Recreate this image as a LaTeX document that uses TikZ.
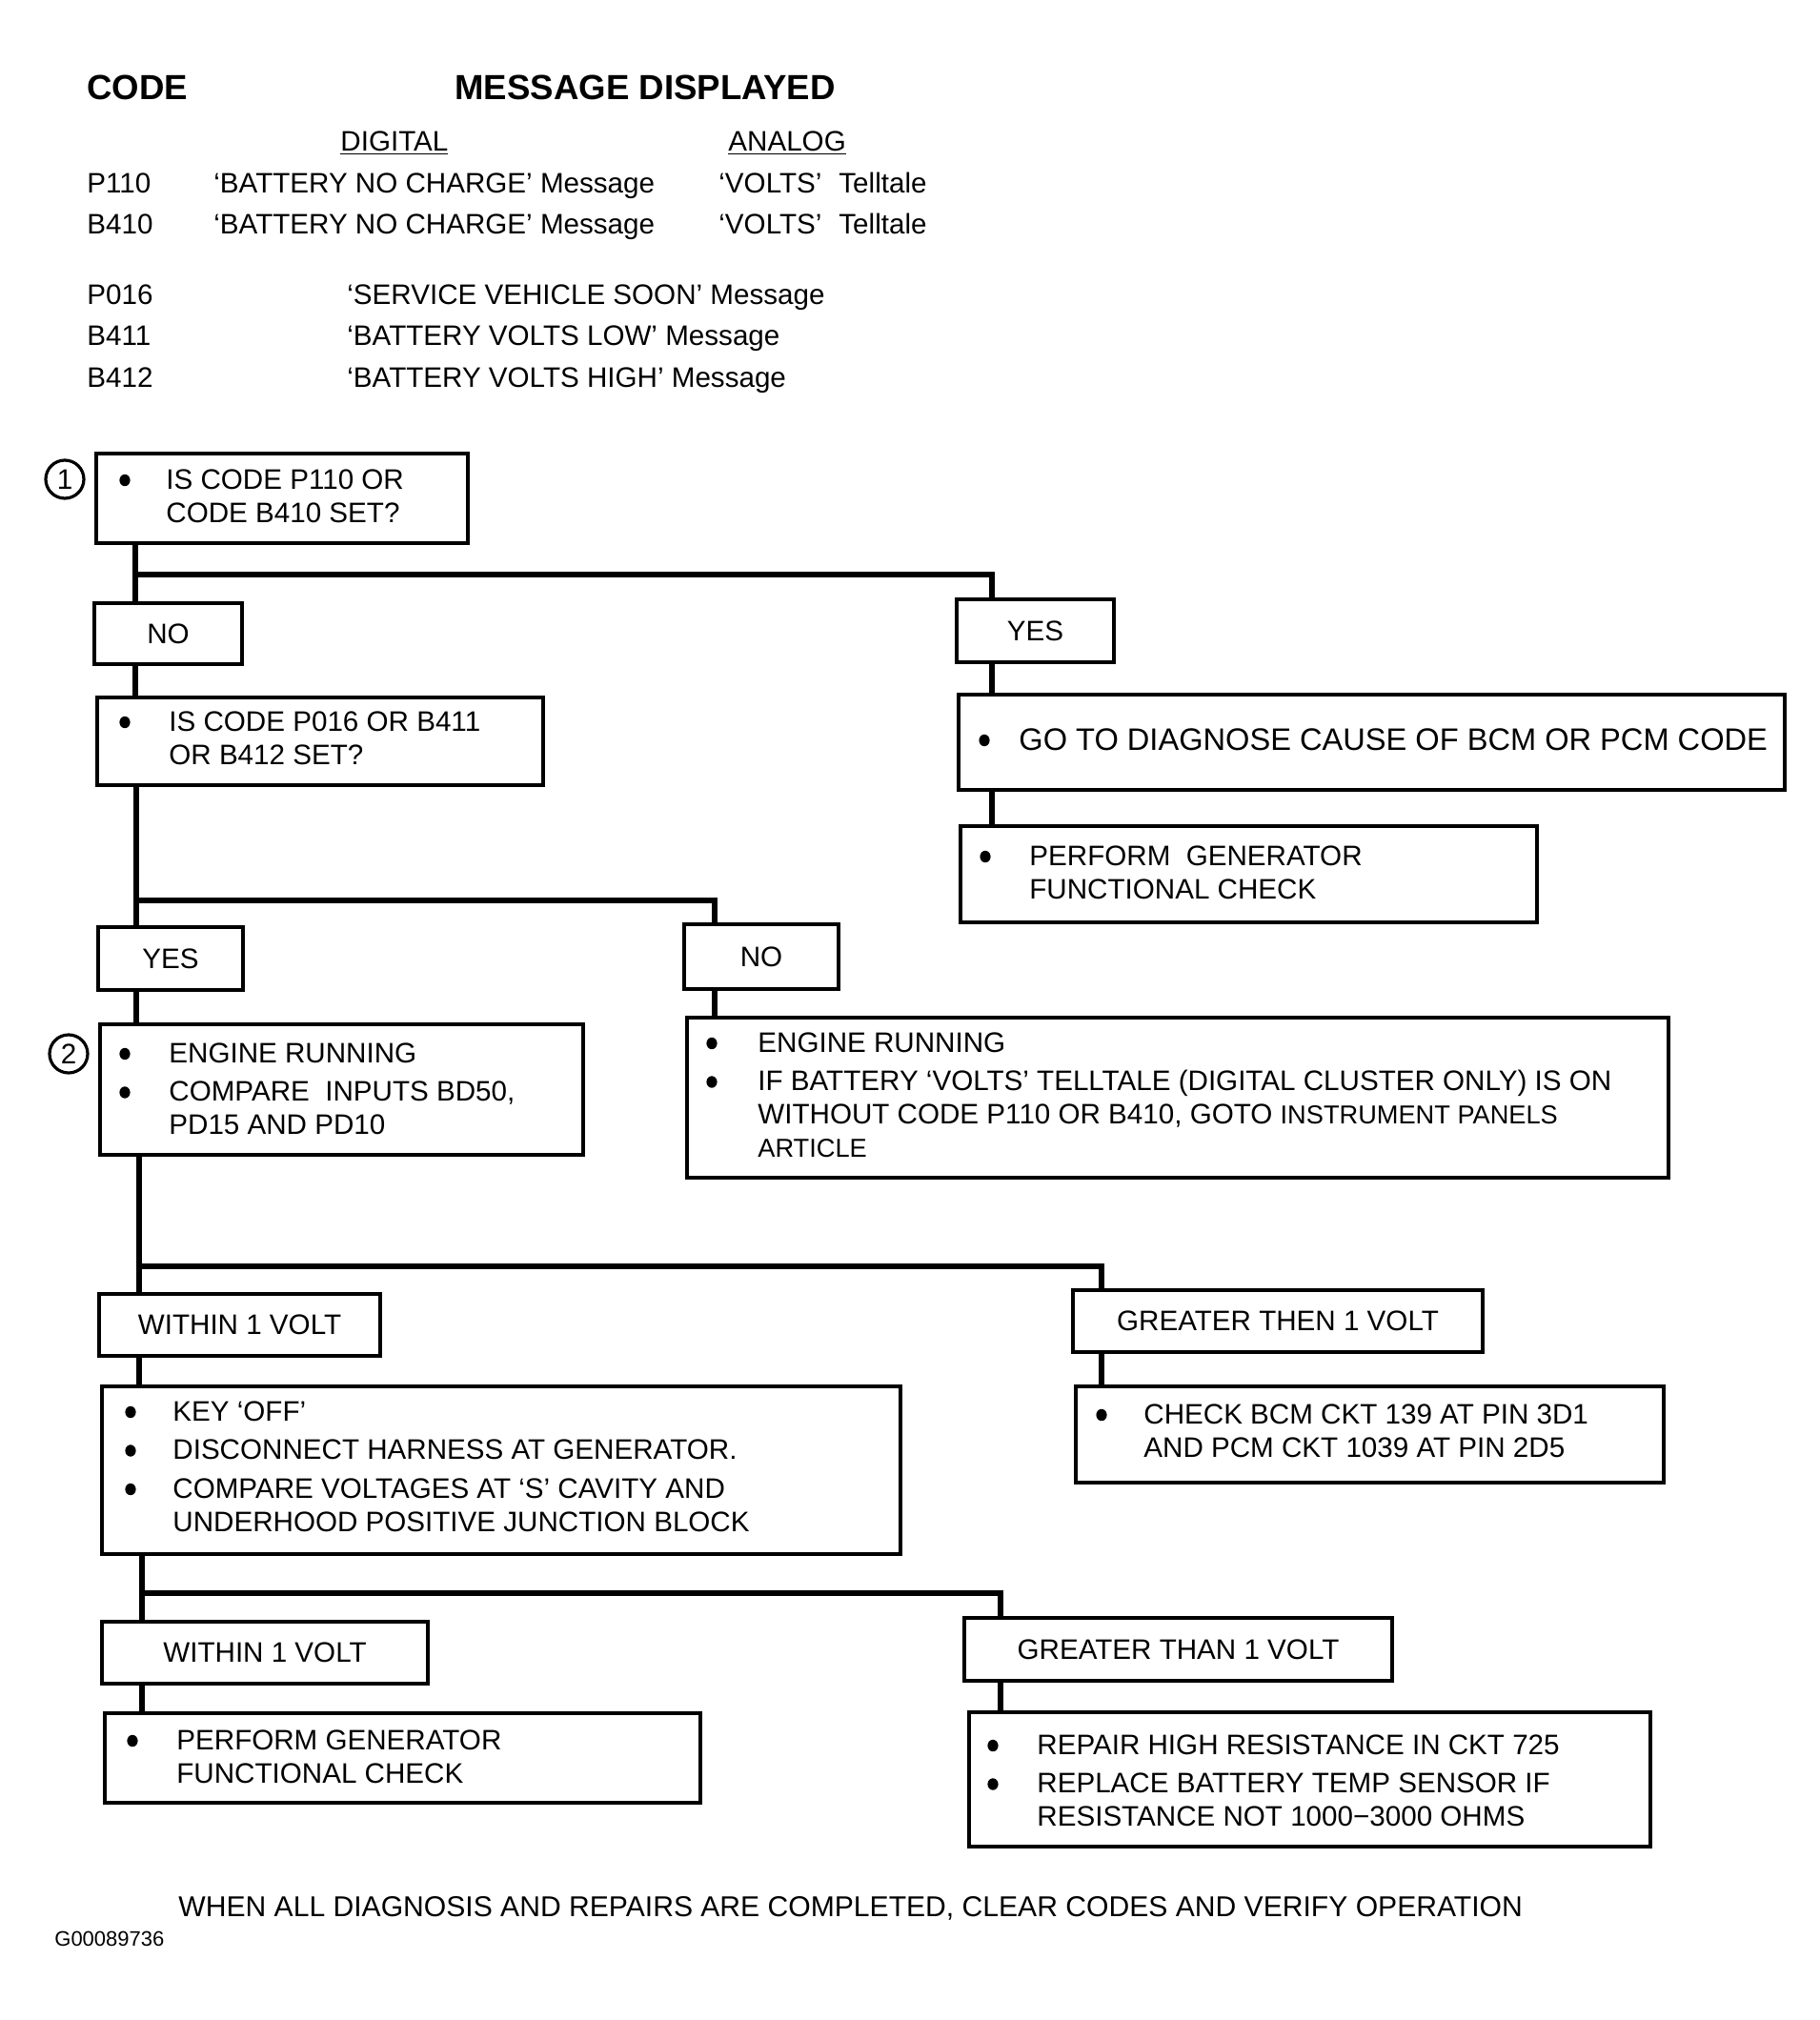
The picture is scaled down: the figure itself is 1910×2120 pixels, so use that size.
\documentclass[tikz,border=0pt]{standalone}
\usepackage{fontspec}
\setmainfont{Liberation Sans}
\usepackage{array}
\newcommand\mainfs{\fontsize{14.8}{17.5}\selectfont}
\newcommand\bigfs{\fontsize{16.3}{19}\selectfont}
\newcommand\smfs{\fontsize{13.6}{17.5}\selectfont}
\newcommand\ltab[1]{\begin{tabular}[t]{@{}l@{}}#1\end{tabular}}
\newcommand\gap{\\[2.75pt]}
\begin{document}
\begin{tikzpicture}[x=0.5pt,y=-0.5pt,
  every node/.style={inner sep=0pt},
  box/.style={draw, line width=1.8pt, anchor=north west, inner sep=0pt},
  lbl/.style={draw, line width=1.8pt, inner sep=0pt, font=\mainfs},
  conn/.style={line width=3.2pt},
  dot/.style={fill=black},
  txt/.style={anchor=base west, font=\mainfs},
  head/.style={anchor=base west, font=\fontsize{18.3}{22}\selectfont\bfseries},
  num/.style={circle, draw, line width=1.6pt, minimum size=20pt, font=\mainfs}]
\fill[white] (0,0) rectangle (1910,2120);
\useasboundingbox (0,0) rectangle (1910,2120);

% ---------- header ----------
\node[head] (hcode) at (91,104) {CODE};
\node[head] (hmsg) at (477,104) {MESSAGE DISPLAYED};
\node[txt] (hdig) at (357,158) {\underline{DIGITAL}};
\node[txt] (hana) at (764,158) {\underline{ANALOG}};
\node[txt] (c1) at (91,202) {P110};
\node[txt] (m1) at (224,202) {`BATTERY NO CHARGE' Message};
\node[txt] (a1) at (754,202) {`VOLTS'\hspace{9pt}Telltale};
\node[txt] (c2) at (91,245) {B410};
\node[txt] (m2) at (224,245) {`BATTERY NO CHARGE' Message};
\node[txt] (a2) at (754,245) {`VOLTS'\hspace{9pt}Telltale};
\node[txt] (c3) at (91,319) {P016};
\node[txt] (m3) at (364,319) {`SERVICE VEHICLE SOON' Message};
\node[txt] (c4) at (91,362) {B411};
\node[txt] (m4) at (364,362) {`BATTERY VOLTS LOW' Message};
\node[txt] (c5) at (91,406) {B412};
\node[txt] (m5) at (364,406) {`BATTERY VOLTS HIGH' Message};

% ---------- boxes ----------
\node[box, minimum width=195pt, minimum height=47pt] (b1) at (99,474) {};
\node[txt] (t1) at (174,513) {\ltab{IS CODE P110 OR\\ CODE B410 SET?}};
\fill[dot] (131,504) ellipse (2.8pt and 3.1pt);
\node[num] (n1) at (68,503) {1};

\node[lbl, minimum width=77.5pt, minimum height=32pt] (no1) at (176.5,665) {NO};
\node[lbl, minimum width=82.5pt, minimum height=33pt] (yes1) at (1086.5,662) {YES};

\node[box, minimum width=433.5pt, minimum height=50pt] (goto) at (1004,727) {};
\node[txt, font=\bigfs] (tgoto) at (1069,787) {GO TO DIAGNOSE CAUSE OF BCM OR PCM CODE};
\fill[dot] (1033,777) ellipse (2.8pt and 3.1pt);

\node[box, minimum width=302.5pt, minimum height=50.5pt] (perf1) at (1006,865) {};
\node[txt] (tperf1) at (1080,908) {\ltab{PERFORM\ \ GENERATOR\\ FUNCTIONAL CHECK}};
\fill[dot] (1034,899) ellipse (2.8pt and 3.1pt);

\node[box, minimum width=234pt, minimum height=46pt] (q2) at (100,730) {};
\node[txt] (tq2) at (177,767) {\ltab{IS CODE P016 OR B411\\ OR B412 SET?}};
\fill[dot] (131,758) ellipse (2.8pt and 3.1pt);

\node[lbl, minimum width=76pt, minimum height=33pt] (yes2) at (179,1006) {YES};
\node[lbl, minimum width=81pt, minimum height=34pt] (no2) at (799,1004) {NO};

\node[box, minimum width=253.5pt, minimum height=68.5pt] (b2) at (103,1073) {};
\node[txt] (tb2) at (177,1115) {\ltab{ENGINE RUNNING\gap COMPARE\ \ INPUTS BD50,\\ PD15 AND PD10}};
\fill[dot] (131,1106) ellipse (2.8pt and 3.1pt);
\fill[dot] (131,1146.5) ellipse (2.8pt and 3.1pt);
\node[num] (n2) at (72,1106) {2};

\node[box, minimum width=515pt, minimum height=84pt] (nob) at (719,1066) {};
\node[txt] (tnob) at (795,1104) {\ltab{ENGINE RUNNING\gap IF BATTERY `VOLTS' TELLTALE (DIGITAL CLUSTER ONLY) IS ON\\ WITHOUT CODE P110 OR B410, GOTO\ {\smfs INSTRUMENT PANELS}\\ {\smfs ARTICLE}}};
\fill[dot] (747,1095) ellipse (2.8pt and 3.1pt);
\fill[dot] (747,1135.5) ellipse (2.8pt and 3.1pt);

\node[lbl, minimum width=147.5pt, minimum height=32.5pt] (w1) at (251.5,1390.5) {WITHIN 1 VOLT};
\node[lbl, minimum width=215pt, minimum height=32.5pt] (gt1) at (1341,1386.5) {GREATER THEN 1 VOLT};

\node[box, minimum width=308.5pt, minimum height=50.5pt] (chk) at (1127,1453) {};
\node[txt] (tchk) at (1200,1494) {\ltab{CHECK BCM CKT 139 AT PIN 3D1\\ AND PCM CKT 1039 AT PIN 2D5}};
\fill[dot] (1156,1485) ellipse (2.8pt and 3.1pt);

\node[box, minimum width=419pt, minimum height=88pt] (key) at (105,1453) {};
\node[txt] (tkey) at (181,1491) {\ltab{KEY `OFF'\gap DISCONNECT HARNESS AT GENERATOR.\gap COMPARE VOLTAGES AT `S' CAVITY AND\\ UNDERHOOD POSITIVE JUNCTION BLOCK}};
\fill[dot] (137,1482) ellipse (2.8pt and 3.1pt);
\fill[dot] (137,1522.5) ellipse (2.8pt and 3.1pt);
\fill[dot] (137,1563) ellipse (2.8pt and 3.1pt);

\node[lbl, minimum width=171pt, minimum height=32.5pt] (w2) at (278,1734.5) {WITHIN 1 VOLT};
\node[lbl, minimum width=224.5pt, minimum height=33pt] (gt2) at (1236.5,1731) {GREATER THAN 1 VOLT};

\node[box, minimum width=312.5pt, minimum height=47pt] (perf2) at (108,1796) {};
\node[txt] (tperf2) at (185,1836) {\ltab{PERFORM GENERATOR\\ FUNCTIONAL CHECK}};
\fill[dot] (139,1827) ellipse (2.8pt and 3.1pt);

\node[box, minimum width=357.5pt, minimum height=70.5pt] (rep) at (1015,1795) {};
\node[txt] (trep) at (1088,1841) {\ltab{REPAIR HIGH RESISTANCE IN CKT 725\gap REPLACE BATTERY TEMP SENSOR IF\\ RESISTANCE NOT 1000−3000 OHMS}};
\fill[dot] (1042,1832) ellipse (2.8pt and 3.1pt);
\fill[dot] (1042,1872.5) ellipse (2.8pt and 3.1pt);

\node[txt, font=\fontsize{15.05}{18}\selectfont] (foot) at (187,2011) {WHEN ALL DIAGNOSIS AND REPAIRS ARE COMPLETED, CLEAR CODES AND VERIFY OPERATION};
\node[txt, font=\fontsize{11}{13}\selectfont] (gid) at (57,2042) {G00089736};

% ---------- connectors ----------
\coordinate (j1) at (142,603);
\coordinate (k1) at (1041,603);
\draw[conn] (b1.south -| j1) -- (no1.north -| j1);
\draw[conn] (j1) -- (k1) -- (yes1.north -| k1);
\draw[conn] (no1.south -| j1) -- (q2.north -| j1);
\draw[conn] (yes1.south -| k1) -- (goto.north -| k1);
\draw[conn] (goto.south -| k1) -- (perf1.north -| k1);

\coordinate (j2) at (143,945);
\coordinate (k2) at (750,945);
\draw[conn] (q2.south -| j2) -- (yes2.north -| j2);
\draw[conn] (j2) -- (k2) -- (no2.north -| k2);
\draw[conn] (yes2.south -| j2) -- (b2.north -| j2);
\draw[conn] (no2.south -| k2) -- (nob.north -| k2);

\coordinate (j3) at (146,1329);
\coordinate (k3) at (1156,1329);
\draw[conn] (b2.south -| j3) -- (w1.north -| j3);
\draw[conn] (j3) -- (k3) -- (gt1.north -| k3);
\draw[conn] (w1.south -| j3) -- (key.north -| j3);
\draw[conn] (gt1.south -| k3) -- (chk.north -| k3);

\coordinate (j4) at (149,1672);
\coordinate (k4) at (1050,1672);
\draw[conn] (key.south -| j4) -- (w2.north -| j4);
\draw[conn] (j4) -- (k4) -- (gt2.north -| k4);
\draw[conn] (w2.south -| j4) -- (perf2.north -| j4);
\draw[conn] (gt2.south -| k4) -- (rep.north -| k4);
\end{tikzpicture}
\end{document}
